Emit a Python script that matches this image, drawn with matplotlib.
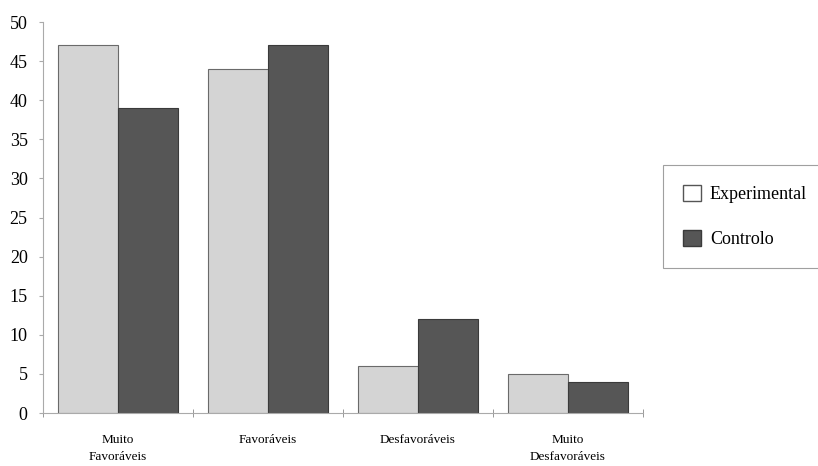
import matplotlib.pyplot as plt
import numpy as np
from matplotlib.patches import Patch

categorias = ["Muito\nFavoráveis", "Favoráveis", "Desfavoráveis", "Muito\nDesfavoráveis"]
experimental = [47, 44, 6, 5]
controlo = [39, 47, 12, 4]

plt.rcParams['font.family'] = ['Liberation Serif', 'DejaVu Serif']

fig = plt.figure(figsize=(8.18, 4.66), dpi=100)
ax = fig.add_axes([43/818, 53/466, 600/818, 391/466])

x = np.arange(len(categorias))
w = 0.4
ax.bar(x - w/2, experimental, w, color="#d4d4d4", edgecolor="#6a6a6a", linewidth=0.8, label="Experimental")
ax.bar(x + w/2, controlo, w, color="#565656", edgecolor="#3a3a3a", linewidth=0.8, label="Controlo")

ax.set_xlim(-0.5, len(categorias) - 0.5)
ax.set_ylim(0, 50)
ax.set_yticks(range(0, 51, 5))
ax.tick_params(axis='y', labelsize=13, length=3, color="#aaaaaa", pad=8)

# category labels at centres, tick marks at the separators
ax.set_xticks(x)
ax.set_xticklabels(categorias, fontsize=9.5, linespacing=1.6)
ax.tick_params(axis='x', length=0, pad=15)
ax.set_xticks(np.arange(len(categorias) + 1) - 0.5, minor=True)
ax.tick_params(axis='x', which='minor', length=6, color="#888888", direction='inout')

for s in ["top", "right"]:
    ax.spines[s].set_visible(False)
ax.spines["left"].set_color("#aaaaaa")
ax.spines["bottom"].set_color("#aaaaaa")

handles = [Patch(facecolor="white", edgecolor="#555555", label="Experimental"),
           Patch(facecolor="#565656", edgecolor="#3a3a3a", label="Controlo")]
leg = fig.legend(handles=handles, loc="upper left", bbox_to_anchor=(663/818, 1 - 165/466),
                 fontsize=13, frameon=True, fancybox=False, edgecolor="#888888",
                 handlelength=1.0, handleheight=1.0, labelspacing=1.5, borderpad=1.1,
                 handletextpad=0.5, borderaxespad=0)
leg.get_frame().set_linewidth(0.8)

fig.savefig("out.png", dpi=100)
